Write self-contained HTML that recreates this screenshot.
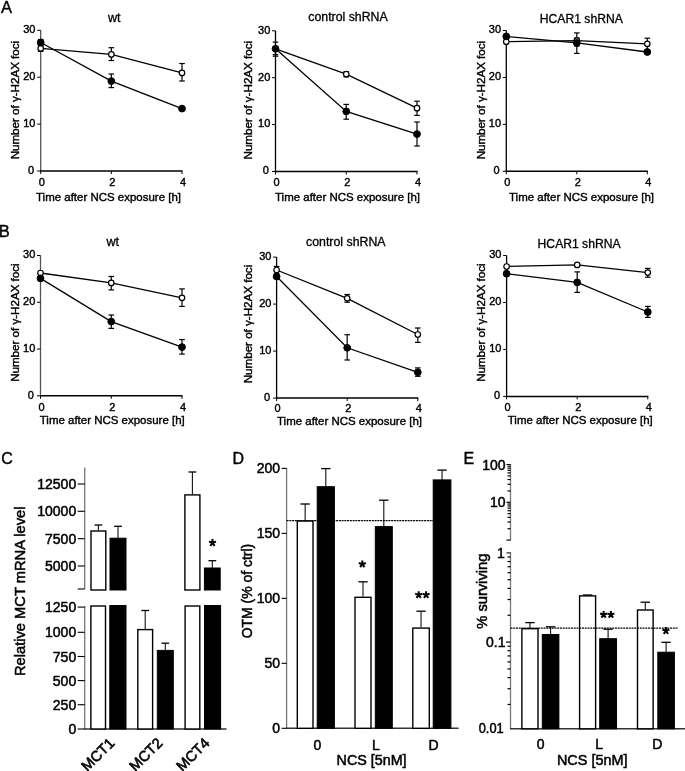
<!DOCTYPE html>
<html><head><meta charset="utf-8"><style>
html,body{margin:0;padding:0;background:#fff;}
svg{display:block;}
text{font-family:"Liberation Sans", sans-serif;fill:#000;}
text.L{stroke-width:0px;}
text[font-size="12"]{stroke-width:0.3px;}
text.b,text[font-size="14"],text[font-size="14.6"]{stroke-width:0.5px;}
text[font-size="14.6"]{stroke-width:0.6px;}
svg{filter:grayscale(100%);}
</style></head><body>
<svg width="685" height="771" viewBox="0 0 685 771" stroke="#000">
<rect x="0" y="0" width="685" height="771" fill="#fff" stroke="none"/>
<g stroke="#000">
<line x1="40.70" y1="30.30" x2="40.70" y2="171.50" stroke-width="1.3" stroke="#555"/>
<line x1="40.20" y1="171.00" x2="182.50" y2="171.00" stroke-width="1.5" />
<line x1="37.20" y1="171.00" x2="40.70" y2="171.00" stroke-width="1" />
<text stroke="#000" stroke-width="0.4" x="34.10" y="173.80" font-size="11" text-anchor="end" >0</text>
<line x1="37.20" y1="124.10" x2="40.70" y2="124.10" stroke-width="1" />
<text stroke="#000" stroke-width="0.4" x="35.50" y="126.90" font-size="11" text-anchor="end" >10</text>
<line x1="37.20" y1="77.20" x2="40.70" y2="77.20" stroke-width="1" />
<text stroke="#000" stroke-width="0.4" x="35.50" y="80.00" font-size="11" text-anchor="end" >20</text>
<line x1="37.20" y1="30.30" x2="40.70" y2="30.30" stroke-width="1" />
<text stroke="#000" stroke-width="0.4" x="35.50" y="33.10" font-size="11" text-anchor="end" >30</text>
<line x1="40.70" y1="171.00" x2="40.70" y2="174.00" stroke-width="1" />
<text stroke="#000" stroke-width="0.4" x="41.70" y="185.60" font-size="11" text-anchor="middle" >0</text>
<line x1="111.35" y1="171.00" x2="111.35" y2="174.00" stroke-width="1" />
<text stroke="#000" stroke-width="0.4" x="112.35" y="185.60" font-size="11" text-anchor="middle" >2</text>
<line x1="182.00" y1="171.00" x2="182.00" y2="174.00" stroke-width="1" />
<text stroke="#000" stroke-width="0.4" x="183.00" y="185.60" font-size="11" text-anchor="middle" >4</text>
<text stroke="#000" stroke-width="0.4" x="114.20" y="21.70" font-size="12" text-anchor="middle" textLength="12.6" lengthAdjust="spacingAndGlyphs">wt</text>
<text stroke="#000" stroke-width="0.4" x="108.50" y="201.30" font-size="11.5" text-anchor="middle" textLength="145" lengthAdjust="spacingAndGlyphs">Time after NCS exposure [h]</text>
<text stroke="#000" stroke-width="0.4" transform="translate(19.40,100.10) rotate(-90)" font-size="11.5" text-anchor="middle" textLength="118.5" lengthAdjust="spacingAndGlyphs">Number of γ-H2AX foci</text>
<polyline fill="none" stroke="#000" stroke-width="1.3" points="40.70,48.40 111.35,54.40 182.00,72.90"/>
<polyline fill="none" stroke="#000" stroke-width="1.3" points="40.70,42.50 111.35,81.10 182.00,108.60"/>
<line x1="40.70" y1="45.50" x2="40.70" y2="51.30" stroke-width="1.2" />
<line x1="37.90" y1="45.50" x2="43.50" y2="45.50" stroke-width="1.2" />
<line x1="37.90" y1="51.30" x2="43.50" y2="51.30" stroke-width="1.2" />
<line x1="111.35" y1="47.70" x2="111.35" y2="60.50" stroke-width="1.2" />
<line x1="108.55" y1="47.70" x2="114.15" y2="47.70" stroke-width="1.2" />
<line x1="108.55" y1="60.50" x2="114.15" y2="60.50" stroke-width="1.2" />
<line x1="182.00" y1="63.50" x2="182.00" y2="81.00" stroke-width="1.2" />
<line x1="179.20" y1="63.50" x2="184.80" y2="63.50" stroke-width="1.2" />
<line x1="179.20" y1="81.00" x2="184.80" y2="81.00" stroke-width="1.2" />
<line x1="40.70" y1="39.50" x2="40.70" y2="45.50" stroke-width="1.2" />
<line x1="37.90" y1="39.50" x2="43.50" y2="39.50" stroke-width="1.2" />
<line x1="37.90" y1="45.50" x2="43.50" y2="45.50" stroke-width="1.2" />
<line x1="111.35" y1="74.00" x2="111.35" y2="87.60" stroke-width="1.2" />
<line x1="108.55" y1="74.00" x2="114.15" y2="74.00" stroke-width="1.2" />
<line x1="108.55" y1="87.60" x2="114.15" y2="87.60" stroke-width="1.2" />
<circle cx="40.70" cy="48.40" r="2.75" fill="#fff" stroke="#000" stroke-width="1.2"/>
<circle cx="111.35" cy="54.40" r="2.75" fill="#fff" stroke="#000" stroke-width="1.2"/>
<circle cx="182.00" cy="72.90" r="2.75" fill="#fff" stroke="#000" stroke-width="1.2"/>
<circle cx="40.70" cy="42.50" r="3.4" fill="#000"/>
<circle cx="111.35" cy="81.10" r="3.4" fill="#000"/>
<circle cx="182.00" cy="108.60" r="3.4" fill="#000"/>
<line x1="275.50" y1="30.80" x2="275.50" y2="172.00" stroke-width="1.3" stroke="#000"/>
<line x1="275.00" y1="171.50" x2="417.50" y2="171.50" stroke-width="1.5" />
<line x1="272.00" y1="171.50" x2="275.50" y2="171.50" stroke-width="1" />
<text stroke="#000" stroke-width="0.4" x="268.90" y="174.30" font-size="11" text-anchor="end" >0</text>
<line x1="272.00" y1="124.60" x2="275.50" y2="124.60" stroke-width="1" />
<text stroke="#000" stroke-width="0.4" x="270.30" y="127.40" font-size="11" text-anchor="end" >10</text>
<line x1="272.00" y1="77.70" x2="275.50" y2="77.70" stroke-width="1" />
<text stroke="#000" stroke-width="0.4" x="270.30" y="80.50" font-size="11" text-anchor="end" >20</text>
<line x1="272.00" y1="30.80" x2="275.50" y2="30.80" stroke-width="1" />
<text stroke="#000" stroke-width="0.4" x="270.30" y="33.60" font-size="11" text-anchor="end" >30</text>
<line x1="275.50" y1="171.50" x2="275.50" y2="174.50" stroke-width="1" />
<text stroke="#000" stroke-width="0.4" x="276.50" y="185.60" font-size="11" text-anchor="middle" >0</text>
<line x1="346.25" y1="171.50" x2="346.25" y2="174.50" stroke-width="1" />
<text stroke="#000" stroke-width="0.4" x="347.25" y="185.60" font-size="11" text-anchor="middle" >2</text>
<line x1="417.00" y1="171.50" x2="417.00" y2="174.50" stroke-width="1" />
<text stroke="#000" stroke-width="0.4" x="418.00" y="185.60" font-size="11" text-anchor="middle" >4</text>
<text stroke="#000" stroke-width="0.4" x="348.00" y="21.00" font-size="12" text-anchor="middle" textLength="79.5" lengthAdjust="spacingAndGlyphs">control shRNA</text>
<text stroke="#000" stroke-width="0.4" x="347.50" y="201.30" font-size="11.5" text-anchor="middle" textLength="145" lengthAdjust="spacingAndGlyphs">Time after NCS exposure [h]</text>
<text stroke="#000" stroke-width="0.4" transform="translate(251.70,100.20) rotate(-90)" font-size="11.5" text-anchor="middle" textLength="118.5" lengthAdjust="spacingAndGlyphs">Number of γ-H2AX foci</text>
<polyline fill="none" stroke="#000" stroke-width="1.3" points="275.50,48.80 346.25,74.10 417.00,108.20"/>
<polyline fill="none" stroke="#000" stroke-width="1.3" points="275.50,48.80 346.25,111.40 417.00,134.10"/>
<line x1="275.50" y1="47.00" x2="275.50" y2="54.70" stroke-width="1.2" />
<line x1="272.70" y1="47.00" x2="278.30" y2="47.00" stroke-width="1.2" />
<line x1="272.70" y1="54.70" x2="278.30" y2="54.70" stroke-width="1.2" />
<line x1="346.25" y1="71.70" x2="346.25" y2="76.90" stroke-width="1.2" />
<line x1="343.45" y1="71.70" x2="349.05" y2="71.70" stroke-width="1.2" />
<line x1="343.45" y1="76.90" x2="349.05" y2="76.90" stroke-width="1.2" />
<line x1="417.00" y1="101.20" x2="417.00" y2="115.40" stroke-width="1.2" />
<line x1="414.20" y1="101.20" x2="419.80" y2="101.20" stroke-width="1.2" />
<line x1="414.20" y1="115.40" x2="419.80" y2="115.40" stroke-width="1.2" />
<line x1="275.50" y1="42.10" x2="275.50" y2="56.20" stroke-width="1.2" />
<line x1="272.70" y1="42.10" x2="278.30" y2="42.10" stroke-width="1.2" />
<line x1="272.70" y1="56.20" x2="278.30" y2="56.20" stroke-width="1.2" />
<line x1="346.25" y1="104.40" x2="346.25" y2="119.20" stroke-width="1.2" />
<line x1="343.45" y1="104.40" x2="349.05" y2="104.40" stroke-width="1.2" />
<line x1="343.45" y1="119.20" x2="349.05" y2="119.20" stroke-width="1.2" />
<line x1="417.00" y1="122.00" x2="417.00" y2="146.00" stroke-width="1.2" />
<line x1="414.20" y1="122.00" x2="419.80" y2="122.00" stroke-width="1.2" />
<line x1="414.20" y1="146.00" x2="419.80" y2="146.00" stroke-width="1.2" />
<circle cx="275.50" cy="48.80" r="2.75" fill="#fff" stroke="#000" stroke-width="1.2"/>
<circle cx="346.25" cy="74.10" r="2.75" fill="#fff" stroke="#000" stroke-width="1.2"/>
<circle cx="417.00" cy="108.20" r="2.75" fill="#fff" stroke="#000" stroke-width="1.2"/>
<circle cx="275.50" cy="48.80" r="3.4" fill="#000"/>
<circle cx="346.25" cy="111.40" r="3.4" fill="#000"/>
<circle cx="417.00" cy="134.10" r="3.4" fill="#000"/>
<line x1="506.30" y1="30.50" x2="506.30" y2="171.80" stroke-width="1.3" stroke="#000"/>
<line x1="505.80" y1="171.30" x2="647.80" y2="171.30" stroke-width="1.5" />
<line x1="502.80" y1="171.30" x2="506.30" y2="171.30" stroke-width="1" />
<text stroke="#000" stroke-width="0.4" x="499.70" y="174.10" font-size="11" text-anchor="end" >0</text>
<line x1="502.80" y1="124.37" x2="506.30" y2="124.37" stroke-width="1" />
<text stroke="#000" stroke-width="0.4" x="501.10" y="127.17" font-size="11" text-anchor="end" >10</text>
<line x1="502.80" y1="77.43" x2="506.30" y2="77.43" stroke-width="1" />
<text stroke="#000" stroke-width="0.4" x="501.10" y="80.23" font-size="11" text-anchor="end" >20</text>
<line x1="502.80" y1="30.50" x2="506.30" y2="30.50" stroke-width="1" />
<text stroke="#000" stroke-width="0.4" x="501.10" y="33.30" font-size="11" text-anchor="end" >30</text>
<line x1="506.30" y1="171.30" x2="506.30" y2="174.30" stroke-width="1" />
<text stroke="#000" stroke-width="0.4" x="507.30" y="185.60" font-size="11" text-anchor="middle" >0</text>
<line x1="576.80" y1="171.30" x2="576.80" y2="174.30" stroke-width="1" />
<text stroke="#000" stroke-width="0.4" x="577.80" y="185.60" font-size="11" text-anchor="middle" >2</text>
<line x1="647.30" y1="171.30" x2="647.30" y2="174.30" stroke-width="1" />
<text stroke="#000" stroke-width="0.4" x="648.30" y="185.60" font-size="11" text-anchor="middle" >4</text>
<text stroke="#000" stroke-width="0.4" x="581.30" y="22.80" font-size="12" text-anchor="middle" textLength="83" lengthAdjust="spacingAndGlyphs">HCAR1 shRNA</text>
<text stroke="#000" stroke-width="0.4" x="581.50" y="201.40" font-size="11.5" text-anchor="middle" textLength="145" lengthAdjust="spacingAndGlyphs">Time after NCS exposure [h]</text>
<text stroke="#000" stroke-width="0.4" transform="translate(484.80,100.10) rotate(-90)" font-size="11.5" text-anchor="middle" textLength="118.5" lengthAdjust="spacingAndGlyphs">Number of γ-H2AX foci</text>
<polyline fill="none" stroke="#000" stroke-width="1.3" points="506.30,41.70 576.80,40.60 647.30,43.80"/>
<polyline fill="none" stroke="#000" stroke-width="1.3" points="506.30,36.40 576.80,42.90 647.30,52.00"/>
<line x1="576.80" y1="32.90" x2="576.80" y2="46.00" stroke-width="1.2" />
<line x1="574.00" y1="32.90" x2="579.60" y2="32.90" stroke-width="1.2" />
<line x1="574.00" y1="46.00" x2="579.60" y2="46.00" stroke-width="1.2" />
<line x1="647.30" y1="38.20" x2="647.30" y2="50.00" stroke-width="1.2" />
<line x1="644.50" y1="38.20" x2="650.10" y2="38.20" stroke-width="1.2" />
<line x1="644.50" y1="50.00" x2="650.10" y2="50.00" stroke-width="1.2" />
<line x1="576.80" y1="38.00" x2="576.80" y2="53.40" stroke-width="1.2" />
<line x1="574.00" y1="38.00" x2="579.60" y2="38.00" stroke-width="1.2" />
<line x1="574.00" y1="53.40" x2="579.60" y2="53.40" stroke-width="1.2" />
<circle cx="506.30" cy="41.70" r="2.75" fill="#fff" stroke="#000" stroke-width="1.2"/>
<circle cx="576.80" cy="40.60" r="2.75" fill="#fff" stroke="#000" stroke-width="1.2"/>
<circle cx="647.30" cy="43.80" r="2.75" fill="#fff" stroke="#000" stroke-width="1.2"/>
<circle cx="506.30" cy="36.40" r="3.4" fill="#000"/>
<circle cx="576.80" cy="42.90" r="3.4" fill="#000"/>
<circle cx="647.30" cy="52.00" r="3.4" fill="#000"/>
<line x1="40.50" y1="255.50" x2="40.50" y2="396.30" stroke-width="1.3" stroke="#555"/>
<line x1="40.00" y1="395.80" x2="182.50" y2="395.80" stroke-width="1.5" />
<line x1="37.00" y1="395.80" x2="40.50" y2="395.80" stroke-width="1" />
<text stroke="#000" stroke-width="0.4" x="33.90" y="398.60" font-size="11" text-anchor="end" >0</text>
<line x1="37.00" y1="349.03" x2="40.50" y2="349.03" stroke-width="1" />
<text stroke="#000" stroke-width="0.4" x="35.30" y="351.83" font-size="11" text-anchor="end" >10</text>
<line x1="37.00" y1="302.27" x2="40.50" y2="302.27" stroke-width="1" />
<text stroke="#000" stroke-width="0.4" x="35.30" y="305.07" font-size="11" text-anchor="end" >20</text>
<line x1="37.00" y1="255.50" x2="40.50" y2="255.50" stroke-width="1" />
<text stroke="#000" stroke-width="0.4" x="35.30" y="258.30" font-size="11" text-anchor="end" >30</text>
<line x1="40.50" y1="395.80" x2="40.50" y2="398.80" stroke-width="1" />
<text stroke="#000" stroke-width="0.4" x="41.50" y="410.70" font-size="11" text-anchor="middle" >0</text>
<line x1="111.25" y1="395.80" x2="111.25" y2="398.80" stroke-width="1" />
<text stroke="#000" stroke-width="0.4" x="112.25" y="410.70" font-size="11" text-anchor="middle" >2</text>
<line x1="182.00" y1="395.80" x2="182.00" y2="398.80" stroke-width="1" />
<text stroke="#000" stroke-width="0.4" x="183.00" y="410.70" font-size="11" text-anchor="middle" >4</text>
<text stroke="#000" stroke-width="0.4" x="112.70" y="245.50" font-size="12" text-anchor="middle" textLength="12.6" lengthAdjust="spacingAndGlyphs">wt</text>
<text stroke="#000" stroke-width="0.4" x="112.25" y="424.30" font-size="11.5" text-anchor="middle" textLength="145" lengthAdjust="spacingAndGlyphs">Time after NCS exposure [h]</text>
<text stroke="#000" stroke-width="0.4" transform="translate(19.30,322.60) rotate(-90)" font-size="11.5" text-anchor="middle" textLength="118.5" lengthAdjust="spacingAndGlyphs">Number of γ-H2AX foci</text>
<polyline fill="none" stroke="#000" stroke-width="1.3" points="40.50,273.00 111.25,282.90 182.00,297.80"/>
<polyline fill="none" stroke="#000" stroke-width="1.3" points="40.50,278.40 111.25,321.60 182.00,347.10"/>
<line x1="111.25" y1="276.50" x2="111.25" y2="289.90" stroke-width="1.2" />
<line x1="108.45" y1="276.50" x2="114.05" y2="276.50" stroke-width="1.2" />
<line x1="108.45" y1="289.90" x2="114.05" y2="289.90" stroke-width="1.2" />
<line x1="182.00" y1="288.90" x2="182.00" y2="306.40" stroke-width="1.2" />
<line x1="179.20" y1="288.90" x2="184.80" y2="288.90" stroke-width="1.2" />
<line x1="179.20" y1="306.40" x2="184.80" y2="306.40" stroke-width="1.2" />
<line x1="111.25" y1="315.00" x2="111.25" y2="328.40" stroke-width="1.2" />
<line x1="108.45" y1="315.00" x2="114.05" y2="315.00" stroke-width="1.2" />
<line x1="108.45" y1="328.40" x2="114.05" y2="328.40" stroke-width="1.2" />
<line x1="182.00" y1="339.60" x2="182.00" y2="354.10" stroke-width="1.2" />
<line x1="179.20" y1="339.60" x2="184.80" y2="339.60" stroke-width="1.2" />
<line x1="179.20" y1="354.10" x2="184.80" y2="354.10" stroke-width="1.2" />
<circle cx="40.50" cy="273.00" r="2.75" fill="#fff" stroke="#000" stroke-width="1.2"/>
<circle cx="111.25" cy="282.90" r="2.75" fill="#fff" stroke="#000" stroke-width="1.2"/>
<circle cx="182.00" cy="297.80" r="2.75" fill="#fff" stroke="#000" stroke-width="1.2"/>
<circle cx="40.50" cy="278.40" r="3.4" fill="#000"/>
<circle cx="111.25" cy="321.60" r="3.4" fill="#000"/>
<circle cx="182.00" cy="347.10" r="3.4" fill="#000"/>
<line x1="276.60" y1="257.10" x2="276.60" y2="398.60" stroke-width="1.3" stroke="#000"/>
<line x1="276.10" y1="398.10" x2="418.30" y2="398.10" stroke-width="1.5" />
<line x1="273.10" y1="398.10" x2="276.60" y2="398.10" stroke-width="1" />
<text stroke="#000" stroke-width="0.4" x="270.00" y="400.90" font-size="11" text-anchor="end" >0</text>
<line x1="273.10" y1="351.10" x2="276.60" y2="351.10" stroke-width="1" />
<text stroke="#000" stroke-width="0.4" x="271.40" y="353.90" font-size="11" text-anchor="end" >10</text>
<line x1="273.10" y1="304.10" x2="276.60" y2="304.10" stroke-width="1" />
<text stroke="#000" stroke-width="0.4" x="271.40" y="306.90" font-size="11" text-anchor="end" >20</text>
<line x1="273.10" y1="257.10" x2="276.60" y2="257.10" stroke-width="1" />
<text stroke="#000" stroke-width="0.4" x="271.40" y="259.90" font-size="11" text-anchor="end" >30</text>
<line x1="276.60" y1="398.10" x2="276.60" y2="401.10" stroke-width="1" />
<text stroke="#000" stroke-width="0.4" x="277.60" y="412.00" font-size="11" text-anchor="middle" >0</text>
<line x1="347.20" y1="398.10" x2="347.20" y2="401.10" stroke-width="1" />
<text stroke="#000" stroke-width="0.4" x="348.20" y="412.00" font-size="11" text-anchor="middle" >2</text>
<line x1="417.80" y1="398.10" x2="417.80" y2="401.10" stroke-width="1" />
<text stroke="#000" stroke-width="0.4" x="418.80" y="412.00" font-size="11" text-anchor="middle" >4</text>
<text stroke="#000" stroke-width="0.4" x="345.80" y="245.90" font-size="12" text-anchor="middle" textLength="79.5" lengthAdjust="spacingAndGlyphs">control shRNA</text>
<text stroke="#000" stroke-width="0.4" x="349.50" y="424.90" font-size="11.5" text-anchor="middle" textLength="145" lengthAdjust="spacingAndGlyphs">Time after NCS exposure [h]</text>
<text stroke="#000" stroke-width="0.4" transform="translate(252.10,324.00) rotate(-90)" font-size="11.5" text-anchor="middle" textLength="118.5" lengthAdjust="spacingAndGlyphs">Number of γ-H2AX foci</text>
<polyline fill="none" stroke="#000" stroke-width="1.3" points="276.60,270.00 347.20,298.30 417.80,334.50"/>
<polyline fill="none" stroke="#000" stroke-width="1.3" points="276.60,276.50 347.20,347.80 417.80,372.30"/>
<line x1="276.60" y1="266.50" x2="276.60" y2="274.00" stroke-width="1.2" />
<line x1="273.80" y1="266.50" x2="279.40" y2="266.50" stroke-width="1.2" />
<line x1="273.80" y1="274.00" x2="279.40" y2="274.00" stroke-width="1.2" />
<line x1="347.20" y1="294.50" x2="347.20" y2="302.20" stroke-width="1.2" />
<line x1="344.40" y1="294.50" x2="350.00" y2="294.50" stroke-width="1.2" />
<line x1="344.40" y1="302.20" x2="350.00" y2="302.20" stroke-width="1.2" />
<line x1="417.80" y1="328.00" x2="417.80" y2="342.40" stroke-width="1.2" />
<line x1="415.00" y1="328.00" x2="420.60" y2="328.00" stroke-width="1.2" />
<line x1="415.00" y1="342.40" x2="420.60" y2="342.40" stroke-width="1.2" />
<line x1="347.20" y1="334.70" x2="347.20" y2="360.00" stroke-width="1.2" />
<line x1="344.40" y1="334.70" x2="350.00" y2="334.70" stroke-width="1.2" />
<line x1="344.40" y1="360.00" x2="350.00" y2="360.00" stroke-width="1.2" />
<line x1="417.80" y1="367.90" x2="417.80" y2="376.30" stroke-width="1.2" />
<line x1="415.00" y1="367.90" x2="420.60" y2="367.90" stroke-width="1.2" />
<line x1="415.00" y1="376.30" x2="420.60" y2="376.30" stroke-width="1.2" />
<circle cx="276.60" cy="270.00" r="2.75" fill="#fff" stroke="#000" stroke-width="1.2"/>
<circle cx="347.20" cy="298.30" r="2.75" fill="#fff" stroke="#000" stroke-width="1.2"/>
<circle cx="417.80" cy="334.50" r="2.75" fill="#fff" stroke="#000" stroke-width="1.2"/>
<circle cx="276.60" cy="276.50" r="3.4" fill="#000"/>
<circle cx="347.20" cy="347.80" r="3.4" fill="#000"/>
<circle cx="417.80" cy="372.30" r="3.4" fill="#000"/>
<line x1="506.60" y1="255.50" x2="506.60" y2="396.90" stroke-width="1.3" stroke="#000"/>
<line x1="506.10" y1="396.40" x2="648.30" y2="396.40" stroke-width="1.5" />
<line x1="503.10" y1="396.40" x2="506.60" y2="396.40" stroke-width="1" />
<text stroke="#000" stroke-width="0.4" x="500.00" y="399.20" font-size="11" text-anchor="end" >0</text>
<line x1="503.10" y1="349.43" x2="506.60" y2="349.43" stroke-width="1" />
<text stroke="#000" stroke-width="0.4" x="501.40" y="352.23" font-size="11" text-anchor="end" >10</text>
<line x1="503.10" y1="302.47" x2="506.60" y2="302.47" stroke-width="1" />
<text stroke="#000" stroke-width="0.4" x="501.40" y="305.27" font-size="11" text-anchor="end" >20</text>
<line x1="503.10" y1="255.50" x2="506.60" y2="255.50" stroke-width="1" />
<text stroke="#000" stroke-width="0.4" x="501.40" y="258.30" font-size="11" text-anchor="end" >30</text>
<line x1="506.60" y1="396.40" x2="506.60" y2="399.40" stroke-width="1" />
<text stroke="#000" stroke-width="0.4" x="507.60" y="410.90" font-size="11" text-anchor="middle" >0</text>
<line x1="577.20" y1="396.40" x2="577.20" y2="399.40" stroke-width="1" />
<text stroke="#000" stroke-width="0.4" x="578.20" y="410.90" font-size="11" text-anchor="middle" >2</text>
<line x1="647.80" y1="396.40" x2="647.80" y2="399.40" stroke-width="1" />
<text stroke="#000" stroke-width="0.4" x="648.80" y="410.90" font-size="11" text-anchor="middle" >4</text>
<text stroke="#000" stroke-width="0.4" x="579.10" y="248.00" font-size="12" text-anchor="middle" textLength="83" lengthAdjust="spacingAndGlyphs">HCAR1 shRNA</text>
<text stroke="#000" stroke-width="0.4" x="580.25" y="424.30" font-size="11.5" text-anchor="middle" textLength="145" lengthAdjust="spacingAndGlyphs">Time after NCS exposure [h]</text>
<text stroke="#000" stroke-width="0.4" transform="translate(484.80,322.60) rotate(-90)" font-size="11.5" text-anchor="middle" textLength="118.5" lengthAdjust="spacingAndGlyphs">Number of γ-H2AX foci</text>
<polyline fill="none" stroke="#000" stroke-width="1.3" points="506.60,266.50 577.20,264.90 647.80,272.60"/>
<polyline fill="none" stroke="#000" stroke-width="1.3" points="506.60,273.70 577.20,282.40 647.80,312.00"/>
<line x1="647.80" y1="268.40" x2="647.80" y2="277.20" stroke-width="1.2" />
<line x1="645.00" y1="268.40" x2="650.60" y2="268.40" stroke-width="1.2" />
<line x1="645.00" y1="277.20" x2="650.60" y2="277.20" stroke-width="1.2" />
<line x1="577.20" y1="271.90" x2="577.20" y2="292.40" stroke-width="1.2" />
<line x1="574.40" y1="271.90" x2="580.00" y2="271.90" stroke-width="1.2" />
<line x1="574.40" y1="292.40" x2="580.00" y2="292.40" stroke-width="1.2" />
<line x1="647.80" y1="306.40" x2="647.80" y2="317.40" stroke-width="1.2" />
<line x1="645.00" y1="306.40" x2="650.60" y2="306.40" stroke-width="1.2" />
<line x1="645.00" y1="317.40" x2="650.60" y2="317.40" stroke-width="1.2" />
<circle cx="506.60" cy="266.50" r="2.75" fill="#fff" stroke="#000" stroke-width="1.2"/>
<circle cx="577.20" cy="264.90" r="2.75" fill="#fff" stroke="#000" stroke-width="1.2"/>
<circle cx="647.80" cy="272.60" r="2.75" fill="#fff" stroke="#000" stroke-width="1.2"/>
<circle cx="506.60" cy="273.70" r="3.4" fill="#000"/>
<circle cx="577.20" cy="282.40" r="3.4" fill="#000"/>
<circle cx="647.80" cy="312.00" r="3.4" fill="#000"/>
<text stroke="#000" stroke-width="0.4" x="0.90" y="12.50" font-size="16.5" text-anchor="class="L"" >A</text>
<text stroke="#000" stroke-width="0.4" x="-1.20" y="237.40" font-size="16.5" text-anchor="class="L"" >B</text>
<text stroke="#000" stroke-width="0.4" x="1.20" y="463.80" font-size="16" text-anchor="class="L"" >C</text>
<text stroke="#000" stroke-width="0.4" x="232.60" y="463.80" font-size="16" text-anchor="class="L"" >D</text>
<text stroke="#000" stroke-width="0.4" x="463.50" y="463.80" font-size="16" text-anchor="class="L"" >E</text>
<line x1="84.70" y1="467.50" x2="84.70" y2="589.00" stroke-width="1.3" stroke="#777"/>
<line x1="77.70" y1="589.00" x2="84.70" y2="589.00" stroke-width="1.1" />
<line x1="77.70" y1="484.00" x2="84.70" y2="484.00" stroke-width="1.1" />
<text stroke="#000" stroke-width="0.4" x="76.20" y="489.00" font-size="14" text-anchor="end" >12500</text>
<line x1="77.70" y1="511.30" x2="84.70" y2="511.30" stroke-width="1.1" />
<text stroke="#000" stroke-width="0.4" x="76.20" y="516.30" font-size="14" text-anchor="end" >10000</text>
<line x1="77.70" y1="538.70" x2="84.70" y2="538.70" stroke-width="1.1" />
<text stroke="#000" stroke-width="0.4" x="76.20" y="543.70" font-size="14" text-anchor="end" >7500</text>
<line x1="77.70" y1="566.00" x2="84.70" y2="566.00" stroke-width="1.1" />
<text stroke="#000" stroke-width="0.4" x="76.20" y="571.00" font-size="14" text-anchor="end" >5000</text>
<rect x="91.00" y="531.00" width="14.80" height="59.00" fill="#fff" stroke="#000" stroke-width="1.4"/>
<line x1="98.40" y1="525.00" x2="98.40" y2="530.50" stroke-width="1.1" stroke="#111"/>
<line x1="94.50" y1="525.00" x2="102.30" y2="525.00" stroke-width="1.3" />
<rect x="110.00" y="538.20" width="16.00" height="51.80" fill="#000"/>
<line x1="118.00" y1="526.30" x2="118.00" y2="538.20" stroke-width="1.1" stroke="#111"/>
<line x1="114.10" y1="526.30" x2="121.90" y2="526.30" stroke-width="1.3" />
<rect x="184.90" y="494.90" width="15.00" height="95.10" fill="#fff" stroke="#000" stroke-width="1.4"/>
<line x1="192.40" y1="472.00" x2="192.40" y2="494.40" stroke-width="1.1" stroke="#111"/>
<line x1="188.50" y1="472.00" x2="196.30" y2="472.00" stroke-width="1.3" />
<rect x="204.40" y="568.00" width="15.80" height="22.00" fill="#000"/>
<line x1="212.30" y1="560.70" x2="212.30" y2="568.00" stroke-width="1.1" stroke="#111"/>
<line x1="208.40" y1="560.70" x2="216.20" y2="560.70" stroke-width="1.3" />
<path d="M212.50,542.80L212.50,539.10M212.50,542.80L216.02,541.66M212.50,542.80L214.67,545.79M212.50,542.80L210.33,545.79M212.50,542.80L208.98,541.66" stroke="#000" stroke-width="2.0" fill="none"/>
<line x1="84.70" y1="606.00" x2="84.70" y2="729.00" stroke-width="1.3" stroke="#777"/>
<line x1="84.20" y1="729.00" x2="226.50" y2="729.00" stroke-width="1.4" stroke="#333"/>
<line x1="77.70" y1="607.10" x2="84.70" y2="607.10" stroke-width="1.1" />
<text stroke="#000" stroke-width="0.4" x="76.20" y="612.10" font-size="14" text-anchor="end" >1250</text>
<line x1="77.70" y1="632.30" x2="84.70" y2="632.30" stroke-width="1.1" />
<text stroke="#000" stroke-width="0.4" x="76.20" y="637.30" font-size="14" text-anchor="end" >1000</text>
<line x1="77.70" y1="656.50" x2="84.70" y2="656.50" stroke-width="1.1" />
<text stroke="#000" stroke-width="0.4" x="76.20" y="661.50" font-size="14" text-anchor="end" >750</text>
<line x1="77.70" y1="680.60" x2="84.70" y2="680.60" stroke-width="1.1" />
<text stroke="#000" stroke-width="0.4" x="76.20" y="685.60" font-size="14" text-anchor="end" >500</text>
<line x1="77.70" y1="704.70" x2="84.70" y2="704.70" stroke-width="1.1" />
<text stroke="#000" stroke-width="0.4" x="76.20" y="709.70" font-size="14" text-anchor="end" >250</text>
<line x1="77.70" y1="729.00" x2="84.70" y2="729.00" stroke-width="1.1" />
<text stroke="#000" stroke-width="0.4" x="76.20" y="734.00" font-size="14" text-anchor="end" >0</text>
<rect x="90.90" y="606.00" width="14.60" height="123.00" fill="#fff" stroke="#000" stroke-width="1.4"/>
<rect x="109.80" y="605.50" width="16.20" height="123.50" fill="#000"/>
<rect x="137.80" y="629.60" width="14.80" height="99.40" fill="#fff" stroke="#000" stroke-width="1.4"/>
<line x1="145.20" y1="610.50" x2="145.20" y2="629.10" stroke-width="1.1" stroke="#111"/>
<line x1="141.30" y1="610.50" x2="149.10" y2="610.50" stroke-width="1.3" />
<rect x="157.30" y="650.40" width="16.00" height="78.60" fill="#000"/>
<line x1="165.30" y1="643.20" x2="165.30" y2="650.40" stroke-width="1.1" stroke="#111"/>
<line x1="161.40" y1="643.20" x2="169.20" y2="643.20" stroke-width="1.3" />
<rect x="185.10" y="606.00" width="14.70" height="123.00" fill="#fff" stroke="#000" stroke-width="1.4"/>
<rect x="204.50" y="605.50" width="16.10" height="123.50" fill="#000"/>
<text stroke="#000" stroke-width="0.4" transform="translate(24.8,591.3) rotate(-90)" font-size="14" class="b" text-anchor="middle" textLength="169.5" lengthAdjust="spacingAndGlyphs">Relative MCT mRNA level</text>
<text stroke="#000" stroke-width="0.4" transform="translate(115.4,744.0) rotate(-45)" font-size="14.6" text-anchor="end" class="b">MCT1</text>
<text stroke="#000" stroke-width="0.4" transform="translate(163.4,744.0) rotate(-45)" font-size="14.6" text-anchor="end" class="b">MCT2</text>
<text stroke="#000" stroke-width="0.4" transform="translate(210.4,744.0) rotate(-45)" font-size="14.6" text-anchor="end" class="b">MCT4</text>
<line x1="286.60" y1="468.00" x2="286.60" y2="728.80" stroke-width="1.3" stroke="#777"/>
<line x1="286.10" y1="728.30" x2="458.50" y2="728.30" stroke-width="1.4" stroke="#333"/>
<line x1="281.60" y1="728.30" x2="286.60" y2="728.30" stroke-width="1.1" />
<text stroke="#000" stroke-width="0.4" x="280.10" y="733.30" font-size="14" text-anchor="end" >0</text>
<line x1="281.60" y1="663.32" x2="286.60" y2="663.32" stroke-width="1.1" />
<text stroke="#000" stroke-width="0.4" x="280.10" y="668.32" font-size="14" text-anchor="end" >50</text>
<line x1="281.60" y1="598.35" x2="286.60" y2="598.35" stroke-width="1.1" />
<text stroke="#000" stroke-width="0.4" x="280.10" y="603.35" font-size="14" text-anchor="end" >100</text>
<line x1="281.60" y1="533.38" x2="286.60" y2="533.38" stroke-width="1.1" />
<text stroke="#000" stroke-width="0.4" x="280.10" y="538.38" font-size="14" text-anchor="end" >150</text>
<line x1="281.60" y1="468.40" x2="286.60" y2="468.40" stroke-width="1.1" />
<text stroke="#000" stroke-width="0.4" x="280.10" y="473.40" font-size="14" text-anchor="end" >200</text>
<rect x="297.30" y="521.00" width="15.70" height="207.30" fill="#fff" stroke="#000" stroke-width="1.4"/>
<line x1="305.15" y1="504.00" x2="305.15" y2="520.50" stroke-width="1.1" stroke="#111"/>
<line x1="300.45" y1="504.00" x2="309.85" y2="504.00" stroke-width="1.3" />
<rect x="317.20" y="486.70" width="17.20" height="241.60" fill="#000"/>
<line x1="325.80" y1="468.60" x2="325.80" y2="486.70" stroke-width="1.1" stroke="#111"/>
<line x1="321.10" y1="468.60" x2="330.50" y2="468.60" stroke-width="1.3" />
<rect x="355.00" y="597.30" width="16.00" height="131.00" fill="#fff" stroke="#000" stroke-width="1.4"/>
<line x1="363.00" y1="581.80" x2="363.00" y2="596.80" stroke-width="1.1" stroke="#111"/>
<line x1="358.30" y1="581.80" x2="367.70" y2="581.80" stroke-width="1.3" />
<rect x="375.30" y="526.60" width="17.00" height="201.70" fill="#000"/>
<line x1="383.80" y1="500.20" x2="383.80" y2="526.60" stroke-width="1.1" stroke="#111"/>
<line x1="379.10" y1="500.20" x2="388.50" y2="500.20" stroke-width="1.3" />
<rect x="412.80" y="628.10" width="16.50" height="100.20" fill="#fff" stroke="#000" stroke-width="1.4"/>
<line x1="421.05" y1="611.20" x2="421.05" y2="627.60" stroke-width="1.1" stroke="#111"/>
<line x1="416.35" y1="611.20" x2="425.75" y2="611.20" stroke-width="1.3" />
<rect x="433.20" y="479.90" width="17.70" height="248.40" fill="#000"/>
<line x1="442.05" y1="470.10" x2="442.05" y2="479.90" stroke-width="1.1" stroke="#111"/>
<line x1="437.35" y1="470.10" x2="446.75" y2="470.10" stroke-width="1.3" />
<line x1="286.6" y1="520.6" x2="451.5" y2="520.6" stroke-width="1.4" stroke-dasharray="2,0.75"/>
<path d="M362.30,564.20L362.30,560.50M362.30,564.20L365.82,563.06M362.30,564.20L364.47,567.19M362.30,564.20L360.13,567.19M362.30,564.20L358.78,563.06" stroke="#000" stroke-width="2.0" fill="none"/>
<path d="M418.70,594.90L418.70,591.20M418.70,594.90L422.22,593.76M418.70,594.90L420.87,597.89M418.70,594.90L416.53,597.89M418.70,594.90L415.18,593.76" stroke="#000" stroke-width="2.0" fill="none"/>
<path d="M426.10,594.90L426.10,591.20M426.10,594.90L429.62,593.76M426.10,594.90L428.27,597.89M426.10,594.90L423.93,597.89M426.10,594.90L422.58,593.76" stroke="#000" stroke-width="2.0" fill="none"/>
<text stroke="#000" stroke-width="0.4" x="317.30" y="749.60" font-size="14" text-anchor="middle" >0</text>
<text stroke="#000" stroke-width="0.4" x="376.00" y="749.60" font-size="14" text-anchor="middle" >L</text>
<text stroke="#000" stroke-width="0.4" x="433.60" y="749.60" font-size="14" text-anchor="middle" >D</text>
<text stroke="#000" stroke-width="0.4" x="371.60" y="765.00" font-size="14" text-anchor="middle" textLength="70" lengthAdjust="spacingAndGlyphs">NCS [5nM]</text>
<text stroke="#000" stroke-width="0.4" transform="translate(252.2,591.0) rotate(-90)" font-size="14" class="b" text-anchor="middle" textLength="94.5" lengthAdjust="spacingAndGlyphs">OTM (% of ctrl)</text>
<line x1="510.50" y1="464.00" x2="510.50" y2="540.50" stroke-width="1.3" stroke="#777"/>
<line x1="506.50" y1="540.10" x2="510.50" y2="540.10" stroke-width="1.2" />
<line x1="507.50" y1="528.72" x2="510.50" y2="528.72" stroke-width="1.2" />
<line x1="507.50" y1="522.06" x2="510.50" y2="522.06" stroke-width="1.2" />
<line x1="507.50" y1="517.34" x2="510.50" y2="517.34" stroke-width="1.2" />
<line x1="507.50" y1="513.68" x2="510.50" y2="513.68" stroke-width="1.2" />
<line x1="507.50" y1="510.69" x2="510.50" y2="510.69" stroke-width="1.2" />
<line x1="507.50" y1="508.16" x2="510.50" y2="508.16" stroke-width="1.2" />
<line x1="507.50" y1="505.96" x2="510.50" y2="505.96" stroke-width="1.2" />
<line x1="507.50" y1="504.03" x2="510.50" y2="504.03" stroke-width="1.2" />
<line x1="506.50" y1="502.30" x2="510.50" y2="502.30" stroke-width="1.2" />
<line x1="507.50" y1="490.92" x2="510.50" y2="490.92" stroke-width="1.2" />
<line x1="507.50" y1="484.26" x2="510.50" y2="484.26" stroke-width="1.2" />
<line x1="507.50" y1="479.54" x2="510.50" y2="479.54" stroke-width="1.2" />
<line x1="507.50" y1="475.88" x2="510.50" y2="475.88" stroke-width="1.2" />
<line x1="507.50" y1="472.89" x2="510.50" y2="472.89" stroke-width="1.2" />
<line x1="507.50" y1="470.36" x2="510.50" y2="470.36" stroke-width="1.2" />
<line x1="507.50" y1="468.16" x2="510.50" y2="468.16" stroke-width="1.2" />
<line x1="507.50" y1="466.23" x2="510.50" y2="466.23" stroke-width="1.2" />
<line x1="506.50" y1="464.50" x2="510.50" y2="464.50" stroke-width="1" />
<text stroke="#000" stroke-width="0.4" x="505.50" y="469.50" font-size="14" text-anchor="end" >100</text>
<text stroke="#000" stroke-width="0.4" x="505.50" y="507.30" font-size="14" text-anchor="end" >10</text>
<line x1="510.50" y1="552.20" x2="510.50" y2="729.00" stroke-width="1.3" stroke="#777"/>
<line x1="510.00" y1="728.80" x2="685.00" y2="728.80" stroke-width="1.4" stroke="#333"/>
<line x1="506.00" y1="642.10" x2="510.50" y2="642.10" stroke-width="1.2" />
<line x1="507.50" y1="615.25" x2="510.50" y2="615.25" stroke-width="1.2" />
<line x1="507.50" y1="599.54" x2="510.50" y2="599.54" stroke-width="1.2" />
<line x1="507.50" y1="588.40" x2="510.50" y2="588.40" stroke-width="1.2" />
<line x1="507.50" y1="579.75" x2="510.50" y2="579.75" stroke-width="1.2" />
<line x1="507.50" y1="572.69" x2="510.50" y2="572.69" stroke-width="1.2" />
<line x1="507.50" y1="566.72" x2="510.50" y2="566.72" stroke-width="1.2" />
<line x1="507.50" y1="561.54" x2="510.50" y2="561.54" stroke-width="1.2" />
<line x1="507.50" y1="556.98" x2="510.50" y2="556.98" stroke-width="1.2" />
<line x1="507.50" y1="704.45" x2="510.50" y2="704.45" stroke-width="1.2" />
<line x1="507.50" y1="688.74" x2="510.50" y2="688.74" stroke-width="1.2" />
<line x1="507.50" y1="677.60" x2="510.50" y2="677.60" stroke-width="1.2" />
<line x1="507.50" y1="668.95" x2="510.50" y2="668.95" stroke-width="1.2" />
<line x1="507.50" y1="661.89" x2="510.50" y2="661.89" stroke-width="1.2" />
<line x1="507.50" y1="655.92" x2="510.50" y2="655.92" stroke-width="1.2" />
<line x1="507.50" y1="650.74" x2="510.50" y2="650.74" stroke-width="1.2" />
<line x1="507.50" y1="646.18" x2="510.50" y2="646.18" stroke-width="1.2" />
<line x1="506.50" y1="552.90" x2="510.50" y2="552.90" stroke-width="1" />
<text stroke="#000" stroke-width="0.4" x="504.70" y="557.90" font-size="14" text-anchor="end" >1</text>
<text stroke="#000" stroke-width="0.4" x="505.50" y="647.10" font-size="14" text-anchor="end" >0.1</text>
<text stroke="#000" stroke-width="0.4" x="503.70" y="732.80" font-size="14" text-anchor="end" textLength="25" lengthAdjust="spacingAndGlyphs">0.01</text>
<rect x="521.90" y="628.70" width="16.10" height="100.10" fill="#fff" stroke="#000" stroke-width="1.4"/>
<line x1="529.95" y1="622.60" x2="529.95" y2="628.20" stroke-width="1.1" stroke="#111"/>
<line x1="525.25" y1="622.60" x2="534.65" y2="622.60" stroke-width="1.3" />
<rect x="542.30" y="634.50" width="16.60" height="94.30" fill="#000"/>
<line x1="550.60" y1="626.80" x2="550.60" y2="634.50" stroke-width="1.1" stroke="#111"/>
<line x1="545.90" y1="626.80" x2="555.30" y2="626.80" stroke-width="1.3" />
<rect x="579.60" y="595.90" width="16.00" height="132.90" fill="#fff" stroke="#000" stroke-width="1.4"/>
<line x1="587.60" y1="595.00" x2="587.60" y2="595.40" stroke-width="1.1" stroke="#111"/>
<line x1="582.90" y1="595.00" x2="592.30" y2="595.00" stroke-width="1.3" />
<rect x="599.70" y="638.70" width="16.80" height="90.10" fill="#000"/>
<line x1="608.10" y1="629.20" x2="608.10" y2="638.70" stroke-width="1.1" stroke="#111"/>
<line x1="603.40" y1="629.20" x2="612.80" y2="629.20" stroke-width="1.3" />
<rect x="637.50" y="610.00" width="15.60" height="118.80" fill="#fff" stroke="#000" stroke-width="1.4"/>
<line x1="645.30" y1="602.20" x2="645.30" y2="609.50" stroke-width="1.1" stroke="#111"/>
<line x1="640.60" y1="602.20" x2="650.00" y2="602.20" stroke-width="1.3" />
<rect x="657.80" y="652.20" width="16.60" height="76.60" fill="#000"/>
<line x1="666.10" y1="642.30" x2="666.10" y2="652.20" stroke-width="1.1" stroke="#111"/>
<line x1="661.40" y1="642.30" x2="670.80" y2="642.30" stroke-width="1.3" />
<line x1="510.5" y1="628.2" x2="678" y2="628.2" stroke-width="1.2" stroke-dasharray="2,0.75"/>
<path d="M603.60,614.60L603.60,610.90M603.60,614.60L607.12,613.46M603.60,614.60L605.77,617.59M603.60,614.60L601.43,617.59M603.60,614.60L600.08,613.46" stroke="#000" stroke-width="2.0" fill="none"/>
<path d="M610.90,614.60L610.90,610.90M610.90,614.60L614.42,613.46M610.90,614.60L613.07,617.59M610.90,614.60L608.73,617.59M610.90,614.60L607.38,613.46" stroke="#000" stroke-width="2.0" fill="none"/>
<path d="M665.90,630.80L665.90,627.10M665.90,630.80L669.42,629.66M665.90,630.80L668.07,633.79M665.90,630.80L663.73,633.79M665.90,630.80L662.38,629.66" stroke="#000" stroke-width="2.0" fill="none"/>
<text stroke="#000" stroke-width="0.4" x="540.60" y="749.30" font-size="14" text-anchor="middle" >0</text>
<text stroke="#000" stroke-width="0.4" x="599.20" y="749.30" font-size="14" text-anchor="middle" >L</text>
<text stroke="#000" stroke-width="0.4" x="657.40" y="749.30" font-size="14" text-anchor="middle" >D</text>
<text stroke="#000" stroke-width="0.4" x="592.20" y="765.30" font-size="14" text-anchor="middle" textLength="70.5" lengthAdjust="spacingAndGlyphs">NCS [5nM]</text>
<text stroke="#000" stroke-width="0.4" transform="translate(486.8,591.2) rotate(-90)" font-size="14" class="b" text-anchor="middle" textLength="75" lengthAdjust="spacingAndGlyphs">% surviving</text>
</g>
</svg>
</body></html>
